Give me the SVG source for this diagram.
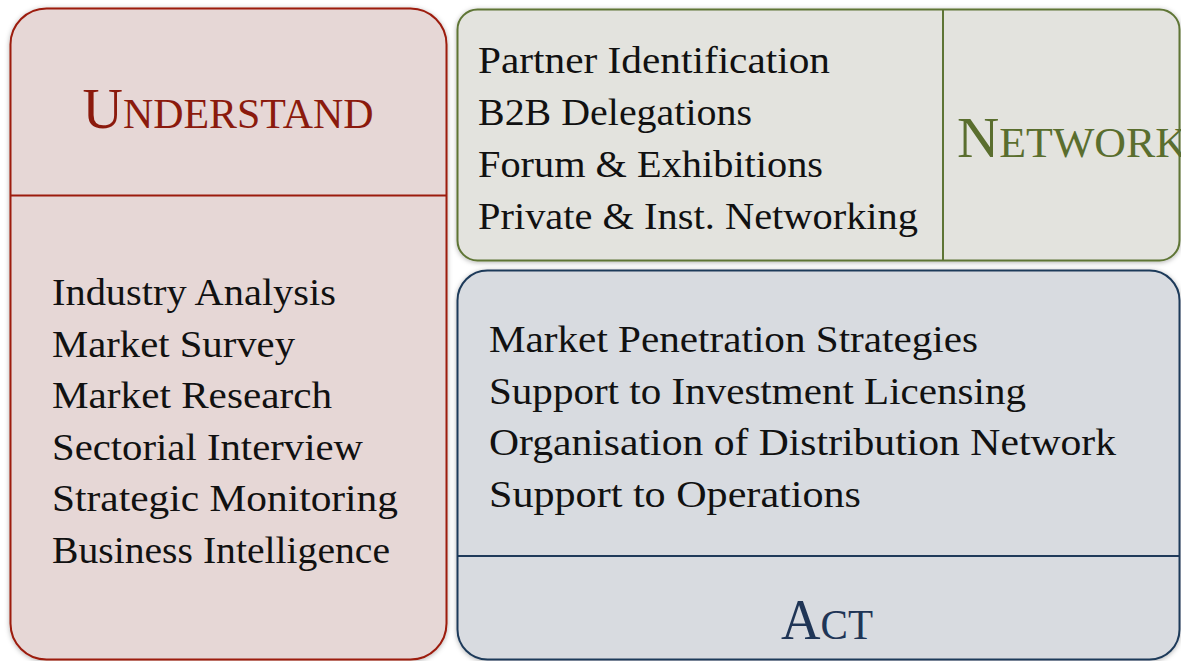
<svg xmlns="http://www.w3.org/2000/svg" width="1181" height="661" viewBox="0 0 1181 661">
<defs>
<filter id="sh" x="-5%" y="-5%" width="110%" height="110%">
<feDropShadow dx="0" dy="1" stdDeviation="2.5" flood-color="#000" flood-opacity="0.3"/>
</filter>
<style>
.t{font-family:"Liberation Serif","Times New Roman",serif;font-size:37px;fill:#111;}
.h{font-family:"Liberation Serif","Times New Roman",serif;font-size:42px;}
.big{font-size:56px;}
</style>
</defs>
<rect width="1181" height="661" fill="#ffffff"/>
<g id="understand">
<rect x="10.5" y="8.5" width="436" height="651" rx="36" fill="#e6d7d6" stroke="#9c1b0d" stroke-width="2" filter="url(#sh)"/>
<line x1="11" y1="195.5" x2="446" y2="195.5" stroke="#9c1b0d" stroke-width="2"/>
<text class="h" x="228" y="128" text-anchor="middle" fill="#8b1a0d" textLength="291" lengthAdjust="spacingAndGlyphs"><tspan class="big">U</tspan>NDERSTAND</text>
<text class="t" x="52" y="305" textLength="284" lengthAdjust="spacingAndGlyphs">Industry Analysis</text>
<text class="t" x="52" y="357" textLength="243" lengthAdjust="spacingAndGlyphs">Market Survey</text>
<text class="t" x="52" y="408" textLength="280" lengthAdjust="spacingAndGlyphs">Market Research</text>
<text class="t" x="52" y="460" textLength="311" lengthAdjust="spacingAndGlyphs">Sectorial Interview</text>
<text class="t" x="52" y="511" textLength="346" lengthAdjust="spacingAndGlyphs">Strategic Monitoring</text>
<text class="t" x="52" y="563" textLength="338" lengthAdjust="spacingAndGlyphs">Business Intelligence</text>
</g>
<g id="network">
<rect x="457.5" y="9.5" width="722" height="251" rx="20" fill="#e3e3de" stroke="#5e7535" stroke-width="2" filter="url(#sh)"/>
<line x1="943" y1="10" x2="943" y2="260" stroke="#5e7535" stroke-width="2"/>
<text class="h" x="957" y="157" fill="#5a6e2e" textLength="230" lengthAdjust="spacingAndGlyphs"><tspan class="big">N</tspan>ETWORK</text>
<text class="t" x="478" y="73" textLength="352" lengthAdjust="spacingAndGlyphs">Partner Identification</text>
<text class="t" x="478" y="125" textLength="274" lengthAdjust="spacingAndGlyphs">B2B Delegations</text>
<text class="t" x="478" y="177" textLength="345" lengthAdjust="spacingAndGlyphs">Forum &amp; Exhibitions</text>
<text class="t" x="478" y="229" textLength="440" lengthAdjust="spacingAndGlyphs">Private &amp; Inst. Networking</text>
</g>
<g id="act">
<rect x="457.5" y="270.5" width="722" height="389" rx="30" fill="#d8dbe0" stroke="#1f3a5a" stroke-width="2" filter="url(#sh)"/>
<line x1="458" y1="556" x2="1180" y2="556" stroke="#1f3a5a" stroke-width="2"/>
<text class="h" x="827" y="639" text-anchor="middle" fill="#1f3556" textLength="92" lengthAdjust="spacingAndGlyphs"><tspan class="big">A</tspan>CT</text>
<text class="t" x="489" y="352" textLength="489" lengthAdjust="spacingAndGlyphs">Market Penetration Strategies</text>
<text class="t" x="489" y="404" textLength="537" lengthAdjust="spacingAndGlyphs">Support to Investment Licensing</text>
<text class="t" x="489" y="455" textLength="627" lengthAdjust="spacingAndGlyphs">Organisation of Distribution Network</text>
<text class="t" x="489" y="507" textLength="372" lengthAdjust="spacingAndGlyphs">Support to Operations</text>
</g>
<g id="connectors"/>
</svg>
